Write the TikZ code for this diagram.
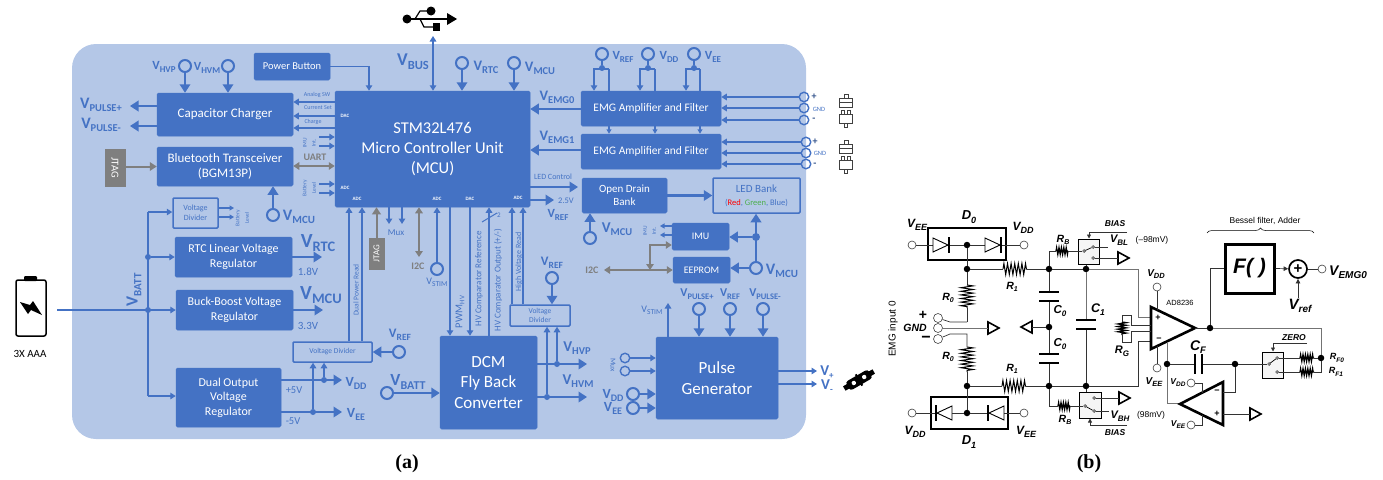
\documentclass[tikz,border=0pt]{standalone}
\usepackage{fontspec}
\setmainfont{Carlito}
\newfontfamily\hvf{Liberation Sans}
\newfontfamily\tmf{Liberation Serif}
\usetikzlibrary{arrows.meta,decorations.pathmorphing,decorations.pathreplacing}
\definecolor{panelc}{HTML}{B4C7E7}
\definecolor{ablue}{HTML}{4472C4}
\definecolor{agray}{HTML}{7F7F7F}
\newcommand{\fs}[1]{\fontsize{#1}{\the\dimexpr #1pt*6/5\relax}\selectfont}
% blue V with subscript: size, subscript size, subscript
\newcommand{\VV}[3]{{\bfseries\fontsize{#1}{#1}\selectfont V\raisebox{-0.22em}{\fontsize{#2}{#2}\selectfont #3}}}
% circuit label: size, subsize, letter, subscript
\newcommand{\CL}[4]{{\hvf\bfseries\itshape\fontsize{#1}{#1}\selectfont #3\raisebox{-0.25em}{\fontsize{#2}{#2}\selectfont #4}}}
% box from corners
\newcommand{\bx}[7]{%
  \pgfmathsetmacro\bxcx{(#3+#5)/2}\pgfmathsetmacro\bxcy{(#4+#6)/2}%
  \pgfmathsetmacro\bxw{#5-#3}\pgfmathsetmacro\bxh{#6-#4}%
  \node[#1,minimum width=\bxw pt,minimum height=\bxh pt] (#2) at (\bxcx,\bxcy) {#7};}
\tikzset{
  x=1pt,y=-1pt,
  solid box/.style={fill=ablue,draw=ablue,rounded corners=1.5pt,text=white,align=center,inner sep=0pt,line width=.5pt},
  line box/.style={draw=ablue,rounded corners=1pt,line width=1.5pt,text=ablue,align=center,inner sep=0pt},
  gray box/.style={fill=agray,draw=agray,text=white,inner sep=0pt},
  lab/.style={text=ablue,inner sep=0pt,align=center},
  glab/.style={text=agray,inner sep=0pt,font=\bfseries\fs{10}},
  big/.style={draw=ablue,line width=2.5pt,-{Triangle[length=8.5pt,width=10.5pt]}},
  med/.style={draw=ablue,line width=1.4pt,-{Triangle[length=5.5pt,width=6.5pt]}},
  thin arr/.style={draw=ablue,line width=1.1pt,-{Triangle[length=4.5pt,width=5pt]}},
  plain blue/.style={draw=ablue,line width=1.4pt},
  garr/.style={draw=agray,line width=1.8pt,{Triangle[length=6pt,width=7.5pt]}-{Triangle[length=6pt,width=7.5pt]}},
  garrone/.style={draw=agray,line width=2pt,-{Triangle[length=7pt,width=8.5pt]}},
  term/.style={circle,draw=ablue,line width=2pt,minimum size=12pt,inner sep=0pt},
  term small/.style={circle,draw=ablue,line width=1.4pt,minimum size=9.5pt,inner sep=0pt},
  adot/.style={circle,fill=ablue,minimum size=6pt,inner sep=0pt},
  bdot/.style={circle,fill=black,minimum size=6.5pt,inner sep=0pt},
  bterm/.style={circle,draw=black!75,line width=.6pt,minimum size=8pt,inner sep=0pt},
  st/.style={circle,draw=black,line width=.5pt,minimum size=2.8pt,inner sep=0pt},
  wire/.style={draw=black!80,line width=.7pt},
  res/.style={draw=black,line width=1pt,decorate,decoration={zigzag,segment length=3.6pt,amplitude=4.5pt}},
  swbox/.style={draw=black,line width=1pt,fill=black!4,inner sep=0pt},
  plate/.style={draw=black,line width=2pt},
  bl/.style={inner sep=0pt},
  tiny white/.style={text=white,inner sep=0pt,font=\bfseries\fs{5}},
  small rot/.style={text=ablue,inner sep=0pt,rotate=90,font=\fs{5.5}},
  small lab/.style={text=ablue,inner sep=0pt,font=\fs{6}},
}
\newcommand{\gndR}[3]{\coordinate (#1) at (#2,#3);\draw[black,line width=1.6pt,line join=miter] (#2,#3-6) -- (#2+11,#3) -- (#2,#3+6) -- cycle;}
\newcommand{\gndL}[3]{\coordinate (#1) at (#2,#3);\draw[black,line width=1.6pt,line join=miter] (#2,#3-6) -- (#2-11,#3) -- (#2,#3+6) -- cycle;}
\newcommand{\plugs}[1]{\begin{scope}[yshift=-#1pt,draw=black!75,line width=1pt]
 \draw (839,98) rectangle (852,107); \draw (839,102)--(852,102); \draw (844,98)--(844,94)--(848,94)--(848,98);
 \draw (839,114) rectangle (852,123); \draw (841,114)--(841,110)--(844,110)--(844,114); \draw (847,114)--(847,110)--(850,110)--(850,114); \draw (844,123)--(844,127)--(847,127)--(847,123);
 \end{scope}}
\begin{document}
\begin{tikzpicture}
\useasboundingbox (0,0) rectangle (1383,479);
% ---------- PANEL (a) ----------
\fill[panelc,rounded corners=24pt] (72,44) rectangle (806,439);
\bx{solid box,font=\fs{10.5}}{pb}{254}{53}{330}{80}{Power Button}
\bx{solid box,font=\fs{13}}{cap}{157}{93}{293}{136}{Capacitor Charger}
\bx{solid box,font=\fs{13}}{bt}{157}{147}{293}{186}{Bluetooth Transceiver\\(BGM13P)}
\bx{gray box}{jt1}{105}{149}{125}{186}{\rotatebox{-90}{\fs{10.5}JTAG}}
\bx{line box,font=\fs{8}}{vd1}{173}{198}{218}{228}{Voltage\\Divider}
\bx{solid box,font=\fs{12}}{rtc}{175}{237}{292}{277}{RTC Linear Voltage\\Regulator}
\bx{solid box,font=\fs{12}}{buck}{176}{290}{293}{330}{Buck-Boost Voltage\\Regulator}
\bx{solid box,font=\fs{12}}{dual}{176}{368}{281}{427}{Dual Output\\Voltage\\Regulator}
\bx{line box,font=\fs{7.5}}{vd2}{293}{342}{372}{362}{Voltage Divider}
\bx{gray box}{jt2}{369}{238}{384}{269}{\rotatebox{90}{\fs{9}JTAG}}
\bx{solid box,font=\fs{16.5}}{mcu}{335}{91}{530}{207}{STM32L476\\Micro Controller Unit\\(MCU)}
\bx{solid box,font=\fs{11.5}}{emga}{581}{91}{721}{126}{EMG Amplifier and Filter}
\bx{solid box,font=\fs{11.5}}{emgb}{581}{134}{721}{169}{EMG Amplifier and Filter}
\bx{solid box,font=\fs{11}}{odb}{582}{178}{667}{213}{Open Drain\\Bank}
\bx{line box,font=\fs{11}}{led}{713}{178}{800}{213}{LED Bank\\\fs{8.5}(\textcolor{red}{Red}, \textcolor{green!55!black!70!white}{Green}, Blue)}
\bx{solid box,font=\fs{10}}{imu}{672}{223}{729}{250}{IMU}
\bx{solid box,font=\fs{10}}{eep}{673}{257}{730}{283}{EEPROM}
\bx{solid box,font=\fs{17}}{pg}{656}{337}{778}{419}{Pulse\\Generator}
\bx{solid box,font=\fs{17}}{dcm}{440}{336}{537}{429}{DCM\\Fly Back\\Converter}
\bx{line box,font=\fs{7.5}}{vd3}{510}{305}{570}{326}{Voltage\\Divider}
% tiny pin labels in the MCU
\node[tiny white] (pdac1) at (345,116) {DAC};
\node[tiny white] (padc1) at (345,188) {ADC};
\node[tiny white] (padc2) at (357,199) {ADC};
\node[tiny white] (padc3) at (437,199) {ADC};
\node[tiny white] (pdac2) at (470,199) {DAC};
\node[tiny white] (padc4) at (518,198) {ADC};
% terminals
\node[term] (hvp) at (185,66) {};
\node[term] (hvm) at (228,66) {};
\node[term] (rtcin) at (462,63) {};
\node[term] (mcuin) at (514,63) {};
\node[term] (btm) at (273,215) {};
\node[term] (em1) at (602,54) {};
\node[term] (em2) at (648,54) {};
\node[term] (em3) at (694,54) {};
\node[term] (odm) at (590,238) {};
\node[term] (mcur) at (756,268) {};
\node[term] (vs) at (437,269) {};
\node[term] (vr3) at (552,278) {};
\node[term] (vr2) at (399,352) {};
\node[term] (vbt) at (387,393) {};
\node[term] (pp) at (699,309) {};
\node[term] (pr) at (730,309) {};
\node[term] (pm) at (763,309) {};
\node[term small] (mx1) at (625,358) {};
\node[term small] (mx2) at (625,371) {};
\node[term] (pdd) at (633,394) {};
\node[term] (pee) at (633,408) {};
\foreach \n/\yy in {a/97,b/108,c/120}{\node[term small] (ia\n) at (804,\yy) {};}
\foreach \n/\yy in {a/142,b/153,c/164}{\node[term small] (ib\n) at (806,\yy) {};}
% dots
\node[adot] (dbat) at (148,310) {};
\node[adot] (dbat2) at (148,257) {};
\coordinate (dbat3) at (148,396);
\coordinate (dbat4) at (148,212);
\node[adot] (ddd) at (324,380) {};
\node[adot] (dee) at (313,412) {};
\node[adot] (dhp) at (557,364) {};
\node[adot] (dhm) at (547,397) {};
\node[adot,minimum size=8pt] (dm) at (756,237) {};
\foreach \n/\xx in {1/602,2/648,3/694}{\node[adot] (f\n) at (\xx,68) {};}
% free ends
\coordinate (battout) at (57,310);
\coordinate (pulp) at (130,106);
\coordinate (pulm) at (130,126);
\coordinate (usbend) at (433,36);
\coordinate (o18) at (322,257);
\coordinate (o33) at (323,310);
\coordinate (odd) at (342,380);
\coordinate (oee) at (342,412);
\coordinate (ohp) at (587,364);
\coordinate (ohm) at (587,397);
\coordinate (oref) at (554,200);
\coordinate (stimend) at (668,303);
\coordinate (vpl) at (817,371);
\coordinate (vml) at (817,384);
\coordinate (i2cr) at (604,270);
\coordinate (i2cm) at (650,270);
\coordinate (i2cu) at (650,245);
\coordinate (i2cl) at (419,257);
% connectors
\draw[big] (hvp) -- (hvp |- cap.north);
\draw[big] (hvm) -- (hvm |- cap.north);
\draw[big] (cap.west |- pulp) -- (pulp);
\draw[big] (cap.west |- pulm) -- (pulm);
\foreach \yy in {102,116,128}{\coordinate (c) at (0,\yy);\draw[med] (mcu.west |- c) -- (cap.east |- c);}
\foreach \yy in {137,146,184,193}{\coordinate (c) at (319,\yy);\draw[med] (c) -- (mcu.west |- c);}
\coordinate (c) at (0,166);
\draw[garr] (bt.east |- c) -- (mcu.west |- c);
\draw[garrone] (jt1.east |- bt) -- (bt.west);
\draw[big] (btm) -- (btm |- bt.south);
\draw[med] (dbat4) -- (vd1.west |- dbat4);
\foreach \yy in {208,217}{\coordinate (c) at (234,\yy);\draw[thin arr,line width=1.4pt] (vd1.east |- c) -- (c);}
\draw[plain blue] (dbat4) -- (dbat3);
\draw[med] (battout) -- (buck.west |- dbat);
\draw[med] (dbat2) -- (rtc.west |- dbat2);
\draw[med] (dbat3) -- (dual.west |- dbat3);
\draw[big] (rtc.east |- o18) -- (o18);
\draw[big] (buck.east |- o33) -- (o33);
\draw[big] (dual.east |- odd) -- (odd);
\draw[big] (dual.east |- oee) -- (oee);
\draw[med] (ddd) -- (ddd |- vd2.south);
\draw[med] (dee) -- (dee |- vd2.south);
\draw[big] (vr2) -- (vr2 -| vd2.east);
\draw[big] (vbt) -- (vbt -| dcm.west);
\foreach \xx in {349,362}{\coordinate (c) at (\xx,0);\draw[med] (c |- vd2.north) -- (c |- mcu.south);}
\coordinate (c) at (369,0);
\draw[med,line width=1.6pt] (pb.east) -| (c |- mcu.north);
\draw[med,{Triangle[length=5.5pt,width=6.5pt]}-{Triangle[length=5.5pt,width=6.5pt]}] (usbend) -- (usbend |- mcu.north);
\draw[big] (rtcin) -- (rtcin |- mcu.north);
\draw[big] (mcuin) -- (mcuin |- mcu.north);
\coordinate (c) at (0,109);\draw[big] (emga.west |- c) -- (mcu.east |- c);
\coordinate (c) at (0,150);\draw[big] (emgb.west |- c) -- (mcu.east |- c);
\coordinate (c) at (578,187);\draw[big] (mcu.east |- c) -- (c);
\draw[big] (mcu.east |- oref) -- (oref);
\draw[big] (odb.east) -- (odb.east -| led.west);
\draw[big] (odm) -- (odm |- odb.south);
\coordinate (c) at (660,226);\draw[thin arr,line width=1.4pt] (imu.west |- c) -- (c);
\coordinate (c) at (660,235);\draw[thin arr,line width=1.4pt] (imu.west |- c) -- (c);
\draw[garr] (i2cr) -- (eep.west |- i2cr);
\draw[draw=agray,line width=1.8pt,{Triangle[length=6pt,width=7.5pt]}-{Triangle[length=6pt,width=7.5pt]}] (i2cm) -- (i2cu) -- (imu.west |- i2cu);
\draw[big] (mcur) -- (mcur -| eep.east);
\draw[big] (dm) -- (dm -| imu.east);
\draw[big] (mcur) -- (mcur |- led.south);
\draw[garrone] (jt2.north) -- (jt2.north |- mcu.south);
\coordinate (c) at (389,224);\draw[med] (c |- mcu.south) -- (c);
\coordinate (c) at (402,224);\draw[med] (c |- mcu.south) -- (c);
\draw[garr] (i2cl |- mcu.south) -- (i2cl);
\draw[med] (vs) -- (vs |- mcu.south);
\coordinate (c) at (450,0);\draw[med] (c |- mcu.south) -- (c |- dcm.north);
\coordinate (c) at (470,0);\draw[med] (c |- mcu.south) -- (c |- dcm.north);
\coordinate (c) at (489,0);\draw[med] (c |- dcm.north) -- (c |- mcu.south);
\draw[ablue,line width=1pt] (482,222) -- (497,213);
\coordinate (c) at (512,0);\draw[med] (c |- vd3.north) -- (c |- mcu.south);
\coordinate (c) at (523,0);\draw[med] (c |- vd3.north) -- (c |- mcu.south);
\draw[big] (vr3) -- (vr3 |- vd3.north);
\draw[big] (dcm.east |- ohp) -- (ohp);
\draw[big] (dcm.east |- ohm) -- (ohm);
\draw[med] (dhp) -- (dhp |- vd3.south);
\draw[med] (dhm) -- (dhm |- vd3.south);
\draw[big] (pp) -- (pp |- pg.north);
\draw[big] (pr) -- (pr |- pg.north);
\draw[big] (pm) -- (pm |- pg.north);
\draw[med] (stimend |- pg.north) -- (stimend);
\draw[med] (mx1) -- (mx1 -| pg.west);
\draw[med] (mx2) -- (mx2 -| pg.west);
\draw[big] (pdd) -- (pdd -| pg.west);
\draw[big] (pee) -- (pee -| pg.west);
\draw[med] (pg.east |- vpl) -- (vpl);
\draw[med] (pg.east |- vml) -- (vml);
% EMG forks
\foreach \n/\l/\r in {1/594/609,2/640/655,3/686/700}{
  \draw[plain blue,line width=2pt] (em\n) -- (f\n);
  \coordinate (fl) at (\l,69); \coordinate (fr) at (\r,69);
  \draw[med,line width=1.8pt] (fr) -- (fl) -- (fl |- emga.north);
  \draw[plain blue,line width=1.8pt] (fr) -- (fr |- emga.north);
  \draw[thin arr,line width=1.4pt] (fr |- emga.south) -- (fr |- emgb.north);
}
\foreach \n in {a,b,c}{\draw[med] (ia\n) -- (ia\n -| emga.east);\draw[med] (ib\n) -- (ib\n -| emgb.east);}
% labels, panel a
\node[lab] (l1) at (164,67) {\VV{12.5}{9}{HVP}};
\node[lab] (l2) at (207,68) {\VV{12.5}{9}{HVM}};
\node[lab] (l3) at (101,105) {\VV{16}{10.5}{PULSE+}};
\node[lab] (l4) at (101,125) {\VV{16}{10.5}{PULSE-}};
\node[small lab] (l5) at (317,95) {Analog SW};
\node[small lab] (l6) at (318,108) {Current Set};
\node[small lab] (l7) at (313,122) {Charge};
\node[small rot] (l8) at (305,143) {IMU};
\node[small rot] (l9) at (314,143) {Int.};
\node[small rot] (l10) at (305,188) {Battery};
\node[small rot] (l11) at (314,188) {Level};
\node[small rot] (l12) at (238,218) {Battery};
\node[small rot] (l13) at (247,218) {Level};
\node[glab] (l14) at (315,157) {UART};
\node[lab] (l15) at (299,217) {\VV{16}{11}{MCU}};
\node[lab] (l16) at (318,243) {\VV{20}{14.5}{RTC}};
\node[lab] (l17) at (321,295) {\VV{20}{14.5}{MCU}};
\node[lab] (l18) at (308,272) {\fs{11}1.8V};
\node[lab] (l19) at (308,326) {\fs{11}3.3V};
\node[lab,rotate=90] (l20) at (134,290) {\VV{17}{11}{BATT}};
\node[bl] (l21) at (30,354) {\fs{11}3X AAA};
\node[lab] (l22) at (356,383) {\VV{14}{10}{DD}};
\node[lab] (l23) at (356,414) {\VV{14}{10}{EE}};
\node[lab] (l24) at (294,390) {\fs{10.5}+5V};
\node[lab] (l25) at (293,421) {\fs{10.5}-5V};
\node[lab] (l26) at (400,335) {\VV{13}{9.5}{REF}};
\node[lab] (l27) at (408,382) {\VV{17}{12}{BATT}};
\node[lab,rotate=90] (l28) at (356,290) {\fs{7.5}Dual Power Read};
\node[lab] (l29) at (413,62) {\VV{18}{12.5}{BUS}};
\node[lab] (l30) at (486,67) {\VV{14.5}{10.5}{RTC}};
\node[lab] (l31) at (540,68) {\VV{14.5}{10.5}{MCU}};
\node[lab] (l32) at (557,97) {\VV{14.5}{10.5}{EMG0}};
\node[lab] (l33) at (557,137) {\VV{14.5}{10.5}{EMG1}};
\node[lab] (l34) at (553,177) {\fs{8}LED Control};
\node[lab] (l35) at (566,201) {\fs{8.5}2.5V};
\node[lab] (l36) at (558,215) {\VV{12.5}{9}{REF}};
\node[lab] (l37) at (396,233) {\fs{9}Mux};
\node[glab] (l38) at (418,266) {I2C};
\node[lab] (l39) at (437,282) {{\fs{10}V}\raisebox{-.2em}{\fs{7.5}STIM}};
\node[lab,rotate=90] (l40) at (460,312) {\fs{10.5}PWM\raisebox{-.2em}{\fs{7}HV}};
\node[lab,rotate=90] (l41) at (479,279) {\fs{9}HV Comparator Reference};
\node[lab,rotate=90] (l42) at (498,280) {\fs{9}HV Comparator Output (+/-)};
\node[lab] (l43) at (499,215) {\fs{7}2};
\node[lab,rotate=90] (l44) at (519,262) {\fs{8}High Voltage Read};
\node[lab] (l45) at (552,263) {\VV{13}{9.5}{REF}};
\node[lab] (l47) at (577,348) {\VV{15}{10.5}{HVP}};
\node[lab] (l48) at (578,381) {\VV{15}{10.5}{HVM}};
\node[lab] (l49) at (623,57) {\VV{12.5}{9}{REF}};
\node[lab] (l50) at (669,57) {\VV{12.5}{9}{DD}};
\node[lab] (l51) at (713,57) {\VV{12.5}{9}{EE}};
\node[lab,text=ablue!70!black] (l52) at (814,97) {\bfseries\fs{10}+};
\node[lab] (l53) at (819,109) {\fs{6.5}GND};
\node[lab,text=ablue!70!black] (l54) at (814,120) {\bfseries\fs{10}-};
\node[lab,text=ablue!70!black] (l55) at (815,142) {\bfseries\fs{10}+};
\node[lab] (l56) at (820,153) {\fs{6.5}GND};
\node[lab,text=ablue!70!black] (l57) at (815,165) {\bfseries\fs{10}-};
\node[lab] (l58) at (617,229) {\VV{15}{10.5}{MCU}};
\node[small rot] (l59) at (645,231) {IMU};
\node[small rot] (l60) at (654,231) {Int.};
\node[glab] (l61) at (592,270) {I2C};
\node[lab] (l62) at (782,271) {\VV{16}{11}{MCU}};
\node[lab] (l63) at (697,294) {\VV{12}{8.5}{PULSE+}};
\node[lab] (l64) at (730,294) {\VV{12}{8.5}{REF}};
\node[lab] (l65) at (765,294) {\VV{12}{8.5}{PULSE-}};
\node[lab] (l66) at (652,310) {{\fs{10}V}\raisebox{-.2em}{\fs{7.5}STIM}};
\node[lab,rotate=-90] (l67) at (613,365) {\fs{7.5}Mux};
\node[lab] (l68) at (613,395) {\VV{14}{10}{DD}};
\node[lab] (l69) at (613,408) {\VV{14}{10}{EE}};
\node[lab] (l70) at (827,372) {\VV{15}{9}{+}};
\node[lab] (l71) at (827,386) {\VV{15}{9}{-}};
% USB icon
\begin{scope}[line width=1.2pt]
\fill (407,19) circle (4.5);
\fill (431,11) circle (4.5);
\fill (433,23) rectangle (440,31);
\draw (407,19) -- (448,19);
\fill (447,13) -- (457,19) -- (447,25) -- cycle;
\draw (415,19) -- (420,11) -- (431,11);
\draw (420,19) -- (424,27) -- (433,27);
\end{scope}
% battery icon
\draw[black,line width=1.5pt,rounded corners=2pt] (16,280) rectangle (46,336);
\fill[black,rounded corners=1pt] (24,276) rectangle (37,281);
\fill[black] (20,302) -- (30,305) -- (33,301) -- (42,315) -- (31,310) -- (28,314) -- cycle;
\plugs{0}\plugs{46.5}
% V+ V- connector icon
\begin{scope}[shift={(859,380)},rotate=30]
\fill[black,rounded corners=3pt] (-13,-5) rectangle (13,5);
\fill[black] (-17,-2.5) rectangle (17,2.5);
\fill[black] (-1,-6.5) rectangle (1,6.5);
\fill[white] (-6,0) circle (2.2) (6,0) circle (2.2);
\end{scope}
% ---------- PANEL (b) ----------
\begin{scope}[text=black]
\node[bl,rotate=90] (emgi) at (893,329) {\hvf\fontsize{10}{10}\selectfont EMG input 0};
\draw[black,line width=1.3pt] (928,228) rectangle (1006,260);
\draw[black,line width=1.3pt] (931,397) rectangle (1008,429);
\node[bterm] (a1) at (912,245) {};
\node[bterm] (a2) at (1024,245) {};
\node[bterm] (a3) at (912,413) {};
\node[bterm] (a4) at (1024,413) {};
\node[bdot] (n1) at (967,245) {};
\node[bdot] (n2) at (967,269) {};
\node[bdot] (n3) at (967,386) {};
\node[bdot] (n4) at (967,413) {};
\node[bdot] (n5) at (1049,269) {};
\node[bdot] (n6) at (1086,269) {};
\node[bdot] (n7) at (1049,386) {};
\node[bdot] (n8) at (1086,386) {};
\node[bdot] (n9) at (1049,327) {};
\draw[wire] (a1) -- (n1) -- (a2);
\draw[wire] (a3) -- (n4) -- (a4);
\foreach \x in {933,985}{\draw[black,line width=.9pt,fill=white] (\x,238) -- (\x+15,245) -- (\x,252) -- cycle; \draw[black,line width=1.2pt] (\x+16,237) -- (\x+16,253);}
\foreach \x in {936,988}{\draw[black,line width=.9pt,fill=white] (\x+16,406) -- (\x+1,413) -- (\x+16,420) -- cycle; \draw[black,line width=1.2pt] (\x,405) -- (\x,421);}
% R0 top
\coordinate (r0a) at (967,285); \coordinate (r0b) at (967,308); \coordinate (r0c) at (967,322);
\coordinate (r0d) at (967,347); \coordinate (r0e) at (967,372); \coordinate (r0f) at (967,334);
\draw[wire] (n1) -- (n2) -- (r0a);
\draw[res,decoration={amplitude=6pt}] (r0a) -- (r0b);
\draw[wire] (r0b) -- (r0c);
\draw[res,decoration={amplitude=6pt}] (r0d) -- (r0e);
\draw[wire] (r0e) -- (n3) -- (n4);
\node[bterm,minimum size=9pt] (tp) at (938,318) {};
\node[bterm,minimum size=9pt] (tg) at (938,328) {};
\node[bterm,minimum size=9pt] (tm) at (938,339) {};
\coordinate (k1) at (950,322); \coordinate (k2) at (950,334);
\draw[wire] (tp) -- (k1) -- (r0c);
\draw[wire] (tm) -- (k2) -- (r0f) -- (r0d);
\gndR{g1}{988}{328}
\draw[wire,draw=black!55] (tg) -- (g1);
% R1
\coordinate (r1a) at (1003,269); \coordinate (r1b) at (1027,269);
\coordinate (r1c) at (1002,386); \coordinate (r1d) at (1026,386);
\draw[wire] (n2) -- (r1a); \draw[res,decoration={amplitude=5.5pt}] (r1a) -- (r1b); \draw[wire] (r1b) -- (n5) -- (n6);
\draw[wire] (n3) -- (r1c); \draw[res,decoration={amplitude=5.5pt}] (r1c) -- (r1d); \draw[wire] (r1d) -- (n7) -- (n8);
% capacitors
\gndL{g2}{1032}{327}
\draw[wire] (g2) -- (n9);
\coordinate (c0a) at (1049,292); \coordinate (c0b) at (1049,301);
\coordinate (c0c) at (1049,354); \coordinate (c0d) at (1049,363);
\draw[wire] (n5) -- (c0a); \draw[wire] (c0b) -- (n9) -- (c0c); \draw[wire] (c0d) -- (n7);
\draw[plate] (1039,292) -- (1059,292); \draw[plate] (1039,301) -- (1059,301);
\draw[plate] (1039,354) -- (1059,354); \draw[plate] (1039,363) -- (1059,363);
\coordinate (c1a) at (1086,320); \coordinate (c1b) at (1086,329);
\draw[wire,draw=black!55] (n6) -- (c1a); \draw[wire] (c1b) -- (n8);
\draw[plate] (1076,320) -- (1096,320); \draw[plate] (1076,329) -- (1096,329);
% top switch
\bx{swbox,rounded corners=0pt}{s1}{1078}{239}{1099}{264}{}
\node[st] (s1a) at (1084,251) {};
\node[st] (s1b) at (1093,247) {};
\node[st] (s1c) at (1093,258) {};
\draw[black,line width=.7pt] (s1a) -- (s1b);
\coordinate (rba) at (1049,251); \coordinate (rbb) at (1056,251); \coordinate (rbc) at (1068,251);
\draw[wire] (n5) -- (rba) -- (rbb);
\draw[res,decoration={amplitude=3.5pt,segment length=2.4pt},line width=1.2pt] (rbb) -- (rbc);
\draw[wire] (rbc) -- (s1a);
\draw[wire] (n6 |- s1.south) -- (n6);
\gndR{g3}{1118}{258}
\draw[wire] (s1c) -- (g3);
\coordinate (vbl) at (1108,247);
\draw[wire] (s1b) -- (vbl);
\coordinate (b1) at (1127,232); \coordinate (b2) at (1089,232);
\draw[wire,-{Triangle[length=4pt,width=4pt]}] (b1) -- (b2) -- (b2 |- s1.north);
% bottom switch
\bx{swbox,rounded corners=0pt}{s2}{1079}{392}{1101}{418}{}
\node[st] (s2a) at (1085,406) {};
\node[st] (s2b) at (1094,398) {};
\node[st] (s2c) at (1094,411) {};
\draw[black,line width=.7pt] (s2a) -- (s2c);
\coordinate (rbd) at (1049,406); \coordinate (rbe) at (1058,406); \coordinate (rbf) at (1070,406);
\draw[wire] (n7) -- (rbd) -- (rbe);
\draw[res,decoration={amplitude=3.5pt,segment length=2.4pt},line width=1.2pt] (rbe) -- (rbf);
\draw[wire] (rbf) -- (s2a);
\draw[wire] (n8) -- (n8 |- s2.north);
\gndR{g4}{1119}{398}
\draw[wire] (s2b) -- (g4);
\coordinate (vbh) at (1109,411);
\draw[wire] (s2c) -- (vbh);
\coordinate (b3) at (1127,425); \coordinate (b4) at (1090,425);
\draw[wire,-{Triangle[length=4pt,width=4pt]}] (b3) -- (b4) -- (b4 |- s2.south);
% input amp
\coordinate (ia) at (1138,317); \coordinate (ib) at (1138,341);
\draw[wire,draw=black!55] (n6) -- (1138,269) -- (ia) -- (1151,317);
\draw[wire] (n8) -- (1138,386) -- (ib) -- (1151,341);
\draw[black,line width=2.6pt,line join=miter] (1151,307) -- (1195,328) -- (1151,349) -- cycle;
\node[bterm] (vddt) at (1157,287) {};
\node[bterm] (veet) at (1157,368) {};
\coordinate (vddp) at (1157,310); \coordinate (veep) at (1157,346);
\draw[wire] (vddt) -- (vddp); \draw[wire] (veet) -- (veep);
\coordinate (rga) at (1122,322); \coordinate (rgb) at (1122,335);
\draw[res,decoration={amplitude=4pt,segment length=2.6pt},line width=1.3pt] (rga) -- (rgb);
\draw[wire] (rga) -- (1122,315) -- (1131,315) -- (1131,325) -- (1151,325);
\draw[wire] (rgb) -- (1122,342) -- (1131,342) -- (1131,331) -- (1151,331);
% output
\node[bdot] (n10) at (1210,328) {};
\coordinate (tip) at (1195,328);
\draw[wire] (tip) -- (n10);
\draw[wire,draw=black!55,line width=1pt] (n10) -- (1321,328) -- (1321,358);
\bx{draw=black,line width=3pt,inner sep=0pt}{fb}{1225}{244}{1274}{293}{\hvf\bfseries\itshape\fontsize{21}{21}\selectfont F( )}
\draw[wire] (n10) |- (fb.west);
\node[circle,draw=black,line width=1.7pt,minimum size=18pt,inner sep=0pt] (add) at (1298,269) {\hvf\bfseries\fontsize{15}{15}\selectfont +};
\draw[wire,-{Triangle[length=4.5pt,width=4.5pt]}] (fb.east) -- (add);
\node[bterm] (emgo) at (1322,269) {};
\draw[wire] (add) -- (emgo);
\coordinate (vrefc) at (1298,298);
\draw[wire,-{Triangle[length=4.5pt,width=4.5pt]}] (vrefc) -- (add);
\coordinate (br1) at (1207,233); \coordinate (br2) at (1314,233);
\draw[black,line width=.5pt,decorate,decoration={brace,amplitude=5pt}] (br1) -- (br2);
% feedback
\node[bdot] (n11) at (1167,364) {};
\node[bdot] (n12) at (1235,364) {};
\coordinate (ob) at (1167,342);
\draw[wire,draw=black!55] (ob) -- (n11) -- (1167,403) -- (1180,403);
\draw[wire] (n11) -- (1195,364); \draw[wire] (1202,364) -- (n12);
\draw[plate] (1195,354) -- (1195,374); \draw[plate] (1202,354) -- (1202,374);
\bx{swbox,rounded corners=0pt}{s3}{1262}{352}{1283}{378}{}
\node[st] (s3a) at (1269,364) {};
\node[st] (s3b) at (1277,358) {};
\node[st] (s3c) at (1277,372) {};
\draw[black,line width=.7pt] (s3a) -- (s3b);
\draw[wire] (n12) -- (s3a);
\draw[black,line width=2.6pt,line join=miter] (1180,404) -- (1223,382) -- (1223,425) -- cycle;
\draw[wire] (n12) -- (1235,392) -- (1223,392);
\gndR{g5}{1250}{414}
\draw[wire] (1223,414) -- (g5);
\node[bterm] (t5) at (1191,383) {};
\node[bterm] (t6) at (1191,425) {};
\draw[wire] (t5) -- (1202,383) -- (1202,393);
\draw[wire] (t6) -- (1202,425) -- (1202,415);
\node[bdot] (n13) at (1321,358) {};
\coordinate (fa) at (1300,358); \coordinate (fb2) at (1314,358);
\coordinate (fc) at (1300,372); \coordinate (fd) at (1314,372);
\draw[wire] (s3b) -- (fa); \draw[res,decoration={amplitude=3.5pt,segment length=2.4pt},line width=1.2pt] (fa) -- (fb2); \draw[wire] (fb2) -- (n13);
\draw[wire] (s3c) -- (fc); \draw[res,decoration={amplitude=3.5pt,segment length=2.4pt},line width=1.2pt] (fc) -- (fd); \draw[wire] (fd) -- (1321,372) -- (n13);
\coordinate (z1) at (1307,343); \coordinate (z2) at (1273,343);
\draw[wire,-{Triangle[length=4pt,width=4pt]}] (z1) -- (z2) -- (z2 |- s3.north);
% labels panel b
\node[bl] (m1) at (969,217) {\CL{13}{9}{D}{0}};
\node[bl] (m2) at (969,442) {\CL{13}{9}{D}{1}};
\node[bl] (m3) at (917,225) {\CL{12}{9}{V}{EE}};
\node[bl] (m4) at (1023,228) {\CL{12}{9}{V}{DD}};
\node[bl] (m5) at (915,432) {\CL{12}{9}{V}{DD}};
\node[bl] (m6) at (1026,432) {\CL{12}{9}{V}{EE}};
\node[bl] (m7) at (1012,287) {\CL{10.5}{7}{R}{1}};
\node[bl] (m8) at (1012,369) {\CL{10.5}{7}{R}{1}};
\node[bl] (m9) at (948,298) {\CL{10.5}{7}{R}{0}};
\node[bl] (m10) at (948,357) {\CL{10.5}{7}{R}{0}};
\node[bl] (m11) at (1060,311) {\CL{11.5}{8}{C}{0}};
\node[bl] (m12) at (1060,344) {\CL{11.5}{8}{C}{0}};
\node[bl] (m13) at (1098,310) {\CL{12.5}{8.5}{C}{1}};
\node[bl] (m14) at (923,315) {\hvf\bfseries\fontsize{14}{14}\selectfont +};
\node[bl] (m15) at (915,328) {\hvf\bfseries\itshape\fontsize{10.5}{10.5}\selectfont GND};
\node[bl] (m16) at (926,339) {\hvf\bfseries\fontsize{16}{16}\selectfont \symbol{"2212}};
\node[bl] (m17) at (1063,240) {\CL{10.5}{7}{R}{B}};
\node[bl] (m18) at (1065,420) {\CL{10.5}{7}{R}{B}};
\node[bl] (m19) at (1115,224) {\hvf\bfseries\itshape\fontsize{8.5}{8.5}\selectfont BIAS};
\node[bl] (m20) at (1115,433) {\hvf\bfseries\itshape\fontsize{8.5}{8.5}\selectfont BIAS};
\node[bl] (m21) at (1119,240) {\CL{11}{8}{V}{BL}};
\node[bl] (m22) at (1120,416) {\CL{11}{8}{V}{BH}};
\node[bl] (m23) at (1152,240) {\hvf\fontsize{8.5}{8.5}\selectfont (\symbol{"2013}98mV)};
\node[bl] (m24) at (1151,415) {\hvf\fontsize{8.5}{8.5}\selectfont (98mV)};
\node[bl] (m25) at (1156,274) {\CL{10}{7.5}{V}{DD}};
\node[bl] (m26) at (1154,382) {\CL{10}{7.5}{V}{EE}};
\node[bl] (m27) at (1180,303) {\hvf\fontsize{7.5}{7.5}\selectfont AD8236};
\node[bl] (m28) at (1122,351) {\CL{11}{8}{R}{G}};
\node[bl] (m29) at (1158,318) {\hvf\bfseries\fontsize{9}{9}\selectfont +};
\node[bl] (m30) at (1159,340) {\hvf\bfseries\fontsize{9}{9}\selectfont \symbol{"2212}};
\node[bl] (m31) at (1198,347) {\CL{14}{9.5}{C}{F}};
\node[bl] (m32) at (1294,338) {\hvf\bfseries\itshape\fontsize{8.5}{8.5}\selectfont ZERO};
\node[bl] (m33) at (1337,358) {\CL{9}{6.5}{R}{F0}};
\node[bl] (m34) at (1336,372) {\CL{9}{6.5}{R}{F1}};
\node[bl] (m35) at (1178,383) {\CL{8.5}{6.5}{V}{DD}};
\node[bl] (m36) at (1178,425) {\CL{8.5}{6.5}{V}{EE}};
\node[bl] (m37) at (1217,392) {\hvf\bfseries\fontsize{9}{9}\selectfont \symbol{"2212}};
\node[bl] (m38) at (1217,414) {\hvf\bfseries\fontsize{9}{9}\selectfont +};
\node[bl] (m39) at (1265,221) {\hvf\fontsize{8.5}{8.5}\selectfont Bessel filter, Adder};
\node[bl] (m40) at (1348,272) {\CL{14}{10}{V}{EMG0}};
\node[bl] (m41) at (1300,306) {\CL{15}{10}{V}{ref}};
\end{scope}
\node[bl] (capa) at (407,464) {\tmf\bfseries\fontsize{20}{20}\selectfont (a)};
\node[bl] (capb) at (1089,464) {\tmf\bfseries\fontsize{20}{20}\selectfont (b)};
\end{tikzpicture}
\end{document}
